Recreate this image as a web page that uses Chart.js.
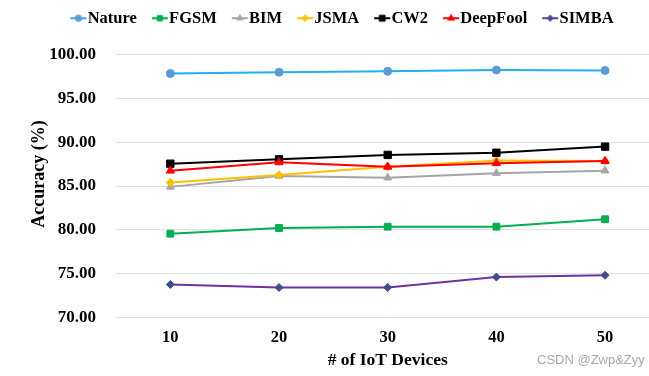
<!DOCTYPE html>
<html>
<head>
<meta charset="utf-8">
<script src="https://cdn.jsdelivr.net/npm/chart.js@4/dist/chart.umd.min.js"></script>
<style>
    html, body { margin: 0; padding: 0; overflow: hidden; background: #fff; }
    #wrap { position: relative; width: 649px; height: 376px; overflow: hidden; }
    #mark { position: absolute; left: 537px; top: 352px; font: 13px 'Liberation Sans', Arial, sans-serif; color: #a8a8a8; white-space: nowrap; }
</style>
</head>
<body>
<div id="wrap">
    <canvas id="accChart" width="679" height="376"></canvas>
    <div id="mark">CSDN @Zwp&amp;Zyy</div>
</div>
<script>
// Data
const categories = ['10', '20', '30', '40', '50'];
const seriesNames = ['Nature', 'FGSM', 'BIM', 'JSMA', 'CW2', 'DeepFool', 'SIMBA'];
const natureAcc = [97.85, 98.0, 98.1, 98.25, 98.2];
const fgsmAcc = [79.55, 80.2, 80.35, 80.35, 81.2];
const bimAcc = [84.9, 86.15, 85.95, 86.45, 86.75];
const jsmaAcc = [85.4, 86.25, 87.2, 87.9, 87.85];
const cw2Acc = [87.55, 88.05, 88.55, 88.8, 89.5];
const deepfoolAcc = [86.75, 87.7, 87.2, 87.6, 87.85];
const simbaAcc = [73.75, 73.4, 73.4, 74.6, 74.8];
const yTickValues = [70, 75, 80, 85, 90, 95, 100];

const seriesValues = [natureAcc, fgsmAcc, bimAcc, jsmaAcc, cw2Acc, deepfoolAcc, simbaAcc];

// Styles (line colour, marker colour, marker shape, marker radius)
const styles = [
    { line: '#1fb0f0', marker: '#5b9bd5', shape: 'circle', r: 4 },
    { line: '#00b050', marker: '#00b050', shape: 'rect', r: 4.8 },
    { line: '#a5a5a5', marker: '#a5a5a5', shape: 'triangle', r: 4.5 },
    { line: '#ffc000', marker: '#ffc000', shape: 'rectRot', r: 4.2 },
    { line: '#000000', marker: '#000000', shape: 'rect', r: 5.2 },
    { line: '#ff0000', marker: '#ff0000', shape: 'triangle', r: 4.8 },
    { line: '#7030a0', marker: '#3f4c8f', shape: 'rectRot', r: 4 }
];

const serif = "'Liberation Serif', 'Times New Roman', serif";

// legend icon: short line with the marker in the middle
function makeIcon(st) {
    const c = document.createElement('canvas');
    c.width = 30;
    c.height = 12;
    const g = c.getContext('2d');
    g.strokeStyle = st.line;
    g.lineWidth = 2;
    g.beginPath();
    g.moveTo(13, 6);
    g.lineTo(29, 6);
    g.stroke();
    g.fillStyle = st.marker;
    g.strokeStyle = st.marker;
    g.lineWidth = 1;
    const opts = { pointStyle: st.shape, rotation: 0, radius: st.r * 0.8, borderWidth: 1 };
    if (Chart.helpers && Chart.helpers.drawPoint) {
        Chart.helpers.drawPoint(g, opts, 21, 6);
    } else {
        g.beginPath();
        g.arc(21, 6, 3, 0, Math.PI * 2);
        g.fill();
    }
    return c;
}
const icons = styles.map(makeIcon);

const datasets = seriesNames.map((name, i) => ({
    label: name,
    data: seriesValues[i],
    borderColor: styles[i].line,
    backgroundColor: styles[i].marker,
    borderWidth: 2,
    pointStyle: styles[i].shape,
    pointRadius: styles[i].r,
    pointHoverRadius: styles[i].r,
    pointBackgroundColor: styles[i].marker,
    pointBorderColor: styles[i].marker,
    pointBorderWidth: 1,
    tension: 0,
    order: seriesNames.length - i
}));

// y axis title placed like the original, and a taller legend box
// so the plot starts lower while the legend stays at the top
const layoutPlugin = {
    id: 'layoutTweaks',
    afterInit(chart) {
        const lg = chart.legend;
        if (lg) {
            const fit = lg.fit;
            lg.fit = function () {
                fit.call(this);
                this.height = 54.7;
            };
        }
    },
    afterDraw(chart) {
        const ctx = chart.ctx;
        ctx.save();
        ctx.translate(39, 174);
        ctx.rotate(-Math.PI / 2);
        ctx.font = 'bold 18px ' + serif;
        ctx.fillStyle = '#000';
        ctx.textAlign = 'center';
        ctx.textBaseline = 'middle';
        ctx.fillText('Accuracy (%)', 0, 0);
        ctx.restore();
    }
};

new Chart(document.getElementById('accChart'), {
    type: 'line',
    data: { labels: categories, datasets: datasets },
    plugins: [layoutPlugin],
    options: {
        responsive: false,
        animation: false,
        devicePixelRatio: 1,
        layout: { padding: 0 },
        plugins: {
            tooltip: { enabled: false },
            legend: {
                position: 'top',
                labels: {
                    usePointStyle: true,
                    pointStyleWidth: 14,
                    padding: 10,
                    color: '#000',
                    font: { family: serif, weight: 'bold', size: 16.5 },
                    generateLabels: (chart) => chart.data.datasets.map((ds, i) => ({
                        text: ds.label,
                        fillStyle: styles[i].marker,
                        strokeStyle: styles[i].marker,
                        lineWidth: 0,
                        pointStyle: icons[i],
                        hidden: false,
                        datasetIndex: i,
                        fontColor: '#000'
                    }))
                }
            }
        },
        scales: {
            x: {
                type: 'category',
                offset: true,
                grid: { display: false, drawTicks: false },
                border: { display: false },
                ticks: { color: '#000', padding: 10.8, font: { family: serif, weight: 'bold', size: 16.5 } },
                title: {
                    display: true,
                    text: '# of IoT Devices',
                    color: '#000',
                    padding: { top: 0, bottom: 5.5 },
                    font: { family: serif, weight: 'bold', size: 17.5 }
                },
                afterFit: (scale) => {
                    scale.height = 58.7;
                    scale.paddingRight = 19.6;
                }
            },
            y: {
                min: 70,
                max: 100,
                grid: { color: '#e2e2e2', lineWidth: 1, drawTicks: false },
                border: { display: false },
                afterBuildTicks: (scale) => {
                    scale.ticks = yTickValues.map(v => ({ value: v }));
                },
                ticks: {
                    color: '#000',
                    padding: 20,
                    font: { family: serif, weight: 'bold', size: 17 },
                    callback: (v) => Number(v).toFixed(2)
                },
                afterFit: (scale) => {
                    scale.width = 116;
                }
            }
        }
    }
});
</script>
</body>
</html>
